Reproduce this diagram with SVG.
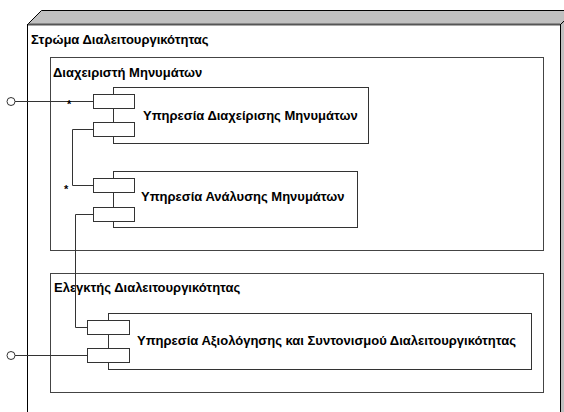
<svg xmlns="http://www.w3.org/2000/svg" width="564" height="412" viewBox="0 0 564 412">
  <style>
    text { font-family: "Liberation Sans", Arial, sans-serif; font-size: 13px; font-weight: bold; fill: #000; }
    .pkg { fill: none; stroke: #444; stroke-width: 1; }
    .body { fill: #fff; stroke: #333; stroke-width: 1; }
    .port { fill: #fff; stroke: #333; stroke-width: 1; }
    .wire { fill: none; stroke: #333; stroke-width: 1; }
    .mult { font-size: 11px; }
  </style>

  <rect x="0" y="0" width="564" height="412" fill="#fff"/>

  <!-- 3D node: interoperability layer -->
  <g id="layer">
    <polygon points="27.5,24.5 41.5,10.5 575,10.5 560.5,24.5" fill="#c0c0c0" stroke="#000"/>
    <polygon points="560.5,24.5 575,10.5 575,420 560.5,420" fill="#c0c0c0" stroke="#000"/>
    <rect x="27.5" y="24.5" width="533" height="400" fill="#fff" stroke="#000"/>
    <path d="M28,24.5 H560" stroke="#555" stroke-width="2"/>
    <text x="31" y="44">Στρώμα Διαλειτουργικότητας</text>
  </g>

  <!-- Package: message manager -->
  <g id="msg-manager">
    <rect class="pkg" x="50.5" y="57.5" width="493" height="193"/>
    <text x="53" y="77">Διαχειριστή Μηνυμάτων</text>
  </g>

  <!-- Package: interoperability controller -->
  <g id="controller">
    <rect class="pkg" x="50.5" y="273.5" width="493" height="119"/>
    <text x="54" y="292">Ελεγκτής Διαλειτουργικότητας</text>
  </g>

  <!-- Component: message management service -->
  <g id="svc-management">
    <rect class="body" x="113.5" y="87.5" width="255" height="56"/>
    <rect class="port" x="93.5" y="94.5" width="41" height="14"/>
    <rect class="port" x="93.5" y="122.5" width="41" height="14"/>
    <text x="143" y="120">Υπηρεσία Διαχείρισης Μηνυμάτων</text>
  </g>

  <!-- Component: message analysis service -->
  <g id="svc-analysis">
    <rect class="body" x="113.5" y="171.5" width="244" height="56"/>
    <rect class="port" x="93.5" y="178.5" width="41" height="14"/>
    <rect class="port" x="93.5" y="207.5" width="41" height="14"/>
    <text x="141" y="201">Υπηρεσία Ανάλυσης Μηνυμάτων</text>
  </g>

  <!-- Component: evaluation and coordination service -->
  <g id="svc-evaluation">
    <rect class="body" x="108.5" y="313.5" width="423" height="56"/>
    <rect class="port" x="87.5" y="320.5" width="42" height="14"/>
    <rect class="port" x="87.5" y="348.5" width="42" height="14"/>
    <text x="137" y="345">Υπηρεσία Αξιολόγησης και Συντονισμού Διαλειτουργικότητας</text>
  </g>

  <!-- Connectors and provided interfaces -->
  <g id="connectors">
    <circle class="wire" cx="11" cy="101.5" r="4"/>
    <path class="wire" d="M15,101.5 H93.5"/>
    <text class="mult" x="67" y="108">*</text>

    <path class="wire" d="M93.5,129.5 H72.5 V185.5 H93.5"/>
    <text class="mult" x="64" y="193">*</text>

    <path class="wire" d="M93.5,214.5 H75.5 V327.5 H87.5"/>

    <circle class="wire" cx="11" cy="355.5" r="4"/>
    <path class="wire" d="M15,355.5 H87.5"/>
  </g>
</svg>
